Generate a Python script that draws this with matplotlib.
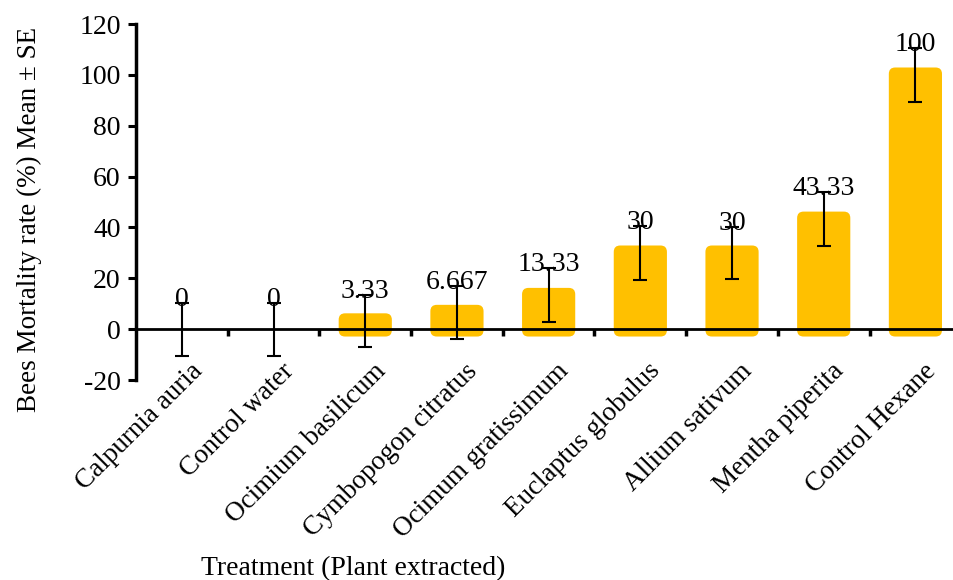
import numpy as np
import matplotlib
matplotlib.use('Agg')
import matplotlib.pyplot as plt
from matplotlib.patches import FancyBboxPatch

plt.rcParams['font.family'] = ['Liberation Serif', 'DejaVu Serif']
plt.rcParams['axes.unicode_minus'] = False

treatments = ['Calpurnia auria', 'Control water', 'Ocimium basilicum', 'Cymbopogon citratus',
              'Ocimum gratissimum', 'Euclaptus globulus', 'Allium sativum', 'Mentha piperita',
              'Control Hexane']
mortality = [0, 0, 3.33, 6.667, 13.33, 30, 30, 43.33, 100]
labels = ['0', '0', '3.33', '6.667', '13.33', '30', '30', '43.33', '100']
se = [10.4, 10.4, 10.2, 10.5, 10.7, 10.6, 10.3, 10.6, 10.5]

fs = 20
fig = plt.figure(figsize=(9.54, 5.8), dpi=100)
ax = fig.add_axes([0.1426, 0.3448, 0.865, 0.6138])

x = np.arange(len(treatments))
half_w = 0.29
pad_y = 2.9
aspect = (0.865 * 954 / 9.0) / (0.6138 * 580 / 140.0)  # px per x unit / px per y unit
for xi, v in zip(x, mortality):
    if v == 0:
        continue  # no bar drawn for zero mortality
    box = FancyBboxPatch((xi - half_w, -pad_y), 2 * half_w, v + 2 * pad_y,
                         boxstyle='round,pad=0,rounding_size=0.07',
                         mutation_aspect=aspect, facecolor='#FFC000',
                         edgecolor='none', zorder=1)
    ax.add_patch(box)

ax.errorbar(x, mortality, yerr=se, fmt='none', ecolor='black', elinewidth=1.5,
            capsize=5, capthick=1.5, zorder=3)

for xi, v, s, lab in zip(x, mortality, se, labels):
    ax.text(xi, v + s + 1.3, lab, ha='center', va='center', fontsize=fs, zorder=4)

ax.set_xlim(-0.5, 8.5)
ax.set_ylim(-20, 120)
ax.set_yticks(np.arange(-20, 121, 20))
ax.tick_params(axis='y', labelsize=fs, length=6, width=2.2, pad=5)

ax.spines['top'].set_visible(False)
ax.spines['right'].set_visible(False)
ax.spines['bottom'].set_position(('data', 0))
ax.spines['bottom'].set_linewidth(2)
ax.spines['left'].set_linewidth(2.5)
ax.spines['bottom'].set_zorder(2.5)

ax.set_xticks([])
ax.set_xticks(x[:-1] + 0.5, minor=True)
ax.tick_params(axis='x', which='minor', length=5, width=2.5, direction='out')

for xi, name in zip(x, treatments):
    ax.text(xi + 0.18, -15.0, name, rotation=45, ha='right', va='center',
            rotation_mode='anchor', fontsize=19.5, clip_on=False)

ax.set_ylabel('Bees Mortality rate (%) Mean ± SE', fontsize=19.5)
ax.yaxis.set_label_coords(-0.114, 0.452)
fig.text(0.37, 0.02, 'Treatment (Plant extracted)', ha='center', va='center', fontsize=fs)

fig.savefig('out.png', dpi=100)
